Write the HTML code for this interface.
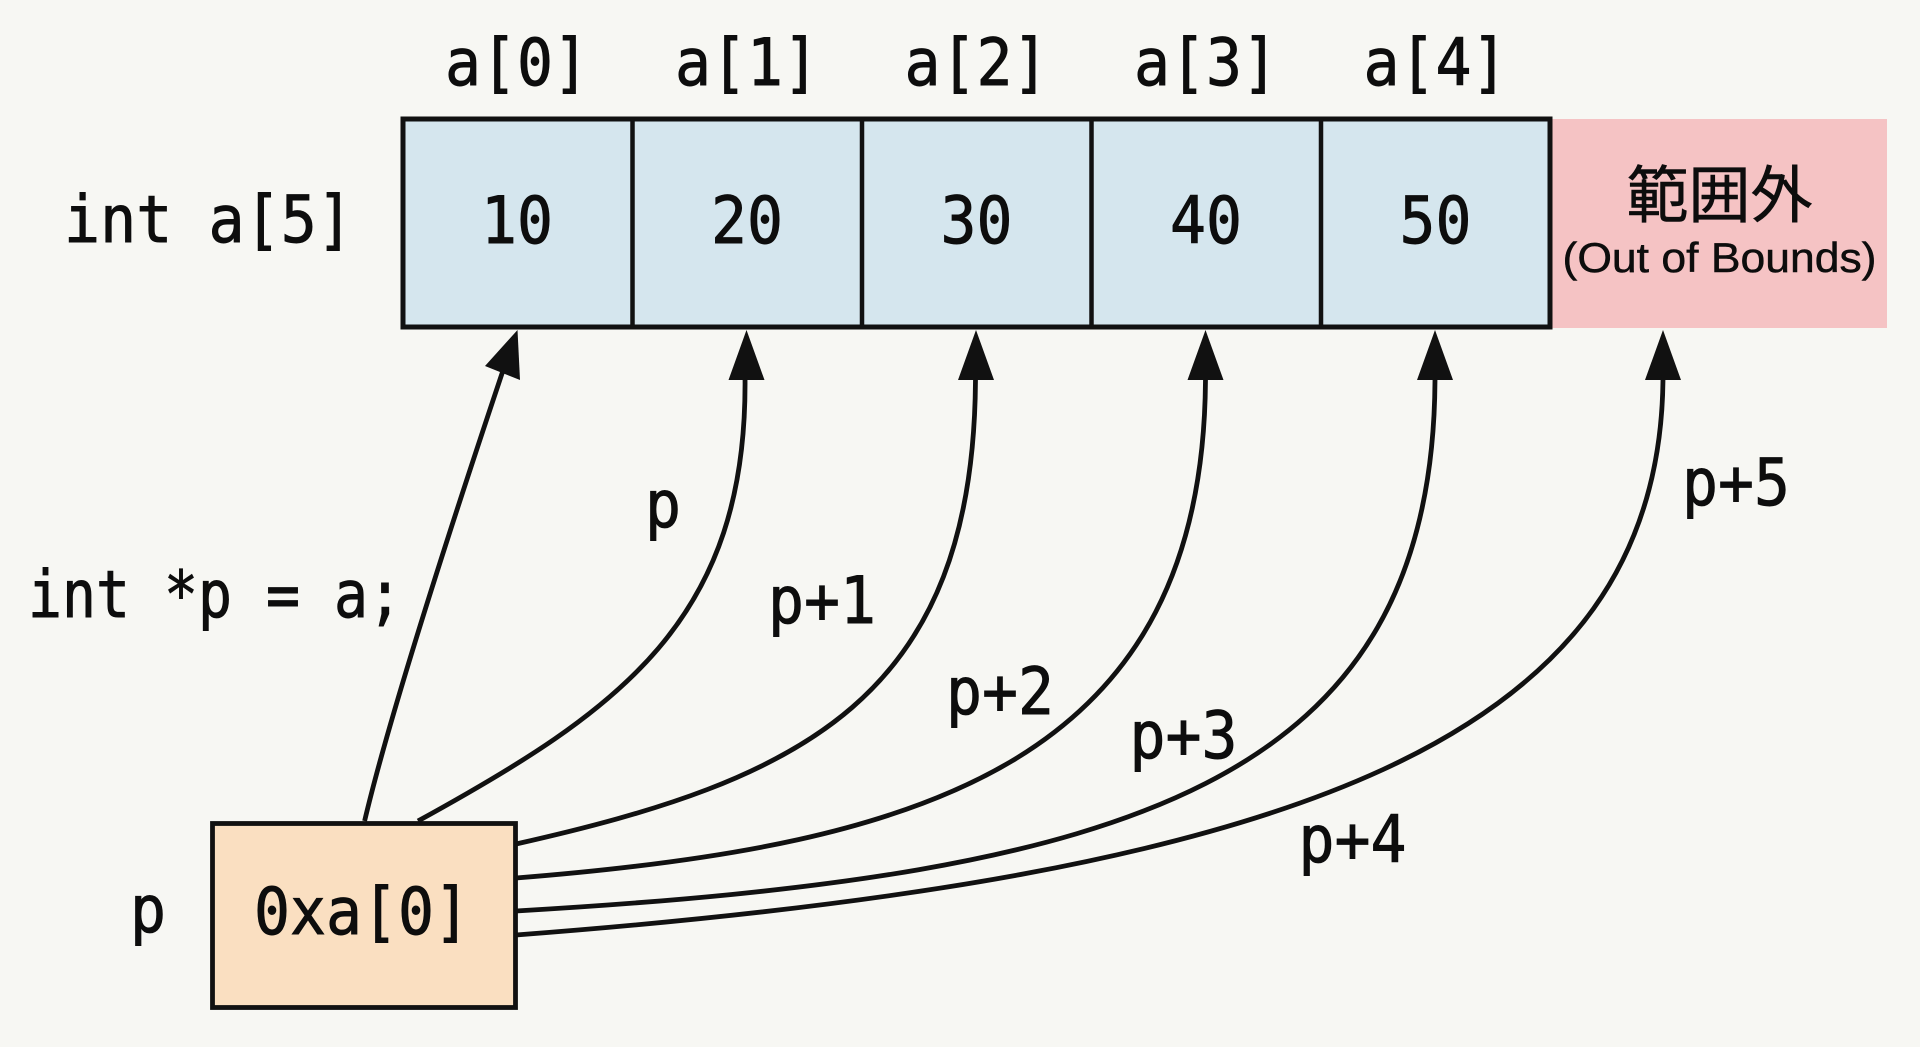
<!DOCTYPE html>
<html>
<head>
<meta charset="utf-8">
<style>
  html, body { margin: 0; padding: 0; background: #f7f7f3; }
  body { width: 1920px; height: 1047px; overflow: hidden; }
  svg { display: block; }
  .mono { font-family: "DejaVu Sans Mono", "Liberation Mono", monospace; fill: #0d0d0d; stroke: #0d0d0d; stroke-width: 0.9; }
</style>
</head>
<body>
<svg width="1920" height="1047" viewBox="0 0 1920 1047" xmlns="http://www.w3.org/2000/svg">
  <rect x="0" y="0" width="1920" height="1047" fill="#f7f7f3"/>

  <!-- index labels -->
  <g class="mono" font-size="65" text-anchor="middle">
    <text x="517" y="85" textLength="144" lengthAdjust="spacingAndGlyphs">a[0]</text>
    <text x="747" y="85" textLength="144" lengthAdjust="spacingAndGlyphs">a[1]</text>
    <text x="976.5" y="85" textLength="144" lengthAdjust="spacingAndGlyphs">a[2]</text>
    <text x="1206" y="85" textLength="144" lengthAdjust="spacingAndGlyphs">a[3]</text>
    <text x="1435.5" y="85" textLength="144" lengthAdjust="spacingAndGlyphs">a[4]</text>
  </g>

  <!-- out of bounds cell -->
  <rect x="1550" y="119" width="337" height="209" fill="#f5c3c4"/>
  <text x="1719.5" y="217" font-family="'Liberation Sans', 'Noto Sans CJK JP', sans-serif" font-size="62" text-anchor="middle" fill="#0d0d0d" stroke="#0d0d0d" stroke-width="0.6">範囲外</text>
  <text x="1719.5" y="272" font-family="'Liberation Sans', sans-serif" font-size="42" text-anchor="middle" textLength="314" lengthAdjust="spacingAndGlyphs" fill="#0d0d0d" stroke="#0d0d0d" stroke-width="0.5">(Out of Bounds)</text>

  <!-- array cells -->
  <rect x="403" y="119" width="1147" height="208" fill="#d5e6ee" stroke="#111" stroke-width="5"/>
  <g stroke="#111" stroke-width="4.5">
    <line x1="632.5" y1="119" x2="632.5" y2="327"/>
    <line x1="862" y1="119" x2="862" y2="327"/>
    <line x1="1091.5" y1="119" x2="1091.5" y2="327"/>
    <line x1="1321" y1="119" x2="1321" y2="327"/>
  </g>
  <g class="mono" font-size="65" text-anchor="middle">
    <text x="517" y="243" textLength="72" lengthAdjust="spacingAndGlyphs">10</text>
    <text x="747" y="243" textLength="72" lengthAdjust="spacingAndGlyphs">20</text>
    <text x="976.5" y="243" textLength="72" lengthAdjust="spacingAndGlyphs">30</text>
    <text x="1206" y="243" textLength="72" lengthAdjust="spacingAndGlyphs">40</text>
    <text x="1435.5" y="243" textLength="72" lengthAdjust="spacingAndGlyphs">50</text>
  </g>

  <text class="mono" x="64" y="242" font-size="65" textLength="289" lengthAdjust="spacingAndGlyphs">int a[5]</text>

  <!-- connectors -->
  <g fill="none" stroke="#111" stroke-width="4.8">
    <path d="M364.6,821 C392,705 468,475 502.5,372"/>
    <path d="M418,821 C620,710 748,620 745,376"/>
    <path d="M516,844 C800,780 975,700 975.5,376"/>
    <path d="M516,878 C930,845 1205,760 1205.5,376"/>
    <path d="M516,911 C1130,875 1435,785 1435,376"/>
    <path d="M516,935 C1300,875 1662,740 1663,376"/>
  </g>
  <g fill="#111">
    <polygon points="517.5,330 520,380 485,366"/>
    <polygon points="746.5,330 764.5,380 728.5,380"/>
    <polygon points="976,330 994,380 958,380"/>
    <polygon points="1205.5,330 1223.5,380 1187.5,380"/>
    <polygon points="1435,330 1453,380 1417,380"/>
    <polygon points="1663,330 1681,380 1645,380"/>
  </g>

  <!-- pointer box -->
  <rect x="212.5" y="823.5" width="303" height="184" fill="#fadfc1" stroke="#111" stroke-width="4.8"/>
  <text class="mono" x="362" y="934" font-size="65" text-anchor="middle" textLength="216" lengthAdjust="spacingAndGlyphs">0xa[0]</text>
  <text class="mono" x="148" y="932" font-size="65" text-anchor="middle" textLength="36" lengthAdjust="spacingAndGlyphs">p</text>

  <text class="mono" x="28" y="617" font-size="65" textLength="374" lengthAdjust="spacingAndGlyphs">int *p = a;</text>

  <!-- connector labels -->
  <g class="mono" font-size="65" text-anchor="middle">
    <text x="663" y="527" textLength="36" lengthAdjust="spacingAndGlyphs">p</text>
    <text x="822" y="623" textLength="108" lengthAdjust="spacingAndGlyphs">p+1</text>
    <text x="1000" y="714" textLength="108" lengthAdjust="spacingAndGlyphs">p+2</text>
    <text x="1183.5" y="758" textLength="108" lengthAdjust="spacingAndGlyphs">p+3</text>
    <text x="1352.5" y="862" textLength="108" lengthAdjust="spacingAndGlyphs">p+4</text>
    <text x="1736" y="505" textLength="108" lengthAdjust="spacingAndGlyphs">p+5</text>
  </g>
</svg>
</body>
</html>
